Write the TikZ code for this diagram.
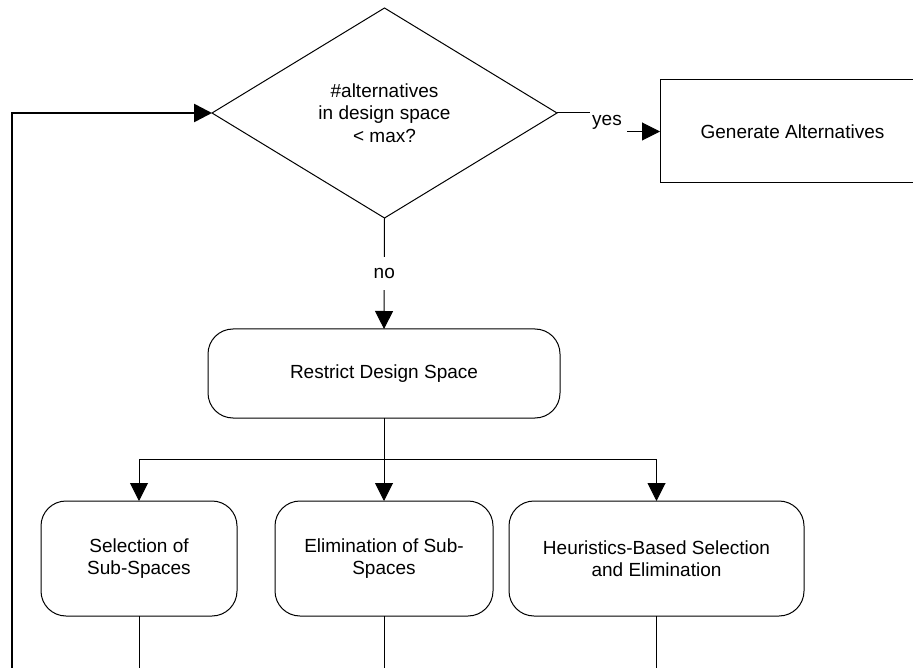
\documentclass[tikz,border=0pt]{standalone}
\usepackage{fontspec}
\setmainfont{Liberation Sans}
\usetikzlibrary{arrows.meta,shapes.geometric}
\begin{document}
\begin{tikzpicture}[x=1pt,y=-1pt,
  font=\fontsize{19}{22.5}\selectfont,
  line width=1pt,
  tip/.style={-{Triangle[length=18pt,width=18pt]}},
  feedback/.style={tip,line width=2.6pt},
  decision/.style={diamond,draw,minimum width=345pt,minimum height=210pt,
    inner sep=0pt,outer sep=0pt,align=center},
  action/.style={draw,rounded corners=25pt,align=center,inner sep=0pt,outer sep=0pt},
  plainbox/.style={draw,rectangle,align=center,inner sep=0pt,outer sep=0pt},
  edgelabel/.style={fill=white,inner xsep=2pt,inner ysep=11pt}]
\clip (0,0) rectangle (913,668);

% decision and process nodes
\node[decision] (dec) at (384.5,113) {\#alternatives\\in design space\\< max?};
\node[plainbox,minimum width=265pt,minimum height=103pt] (gen) at (792.5,131.5) {Generate Alternatives};
\node[action,minimum width=352pt,minimum height=89pt] (restrict) at (384,373.5) {Restrict Design Space};
\node[action,minimum width=196pt,minimum height=115pt] (sel) at (139,558.5) {Selection of\\Sub-Spaces};
\node[action,minimum width=218pt,minimum height=115pt] (elim) at (384,558.5) {Elimination of Sub-\\Spaces};
\node[action,minimum width=295pt,minimum height=115pt] (heur) at (656.5,558.5) {Heuristics-Based Selection\\and Elimination};

% helper points for free connector ends
\coordinate (fbstart) at (12,700);
\coordinate (yesend) at (590,113);
\coordinate (yesarr) at (627,131.5);
\coordinate (split) at (384,459);
\coordinate (selout) at (139,700);
\coordinate (elimout) at (384,700);
\coordinate (heurout) at (656.5,700);

% "yes" branch
\draw (dec.east) -- (yesend);
\node[anchor=base,inner sep=0pt] (yes) at (607,126) {yes};
\draw[tip] (yesarr) -- (gen.west);

% "no" branch
\draw[tip] (dec.south) -- node[edgelabel] (no) {no} (restrict.north);

% fan-out to the three strategies
\draw (restrict.south) -- (split);
\draw[tip] (split) -- (elim.north);
\draw[tip] (split) -| (sel.north);
\draw[tip] (split) -| (heur.north);

% outgoing lines and the loop back to the decision
\draw (sel.south) -- (selout);
\draw (elim.south) -- (elimout);
\draw (heur.south) -- (heurout);
\draw[feedback] (fbstart) |- (dec.west);
\end{tikzpicture}
\end{document}
